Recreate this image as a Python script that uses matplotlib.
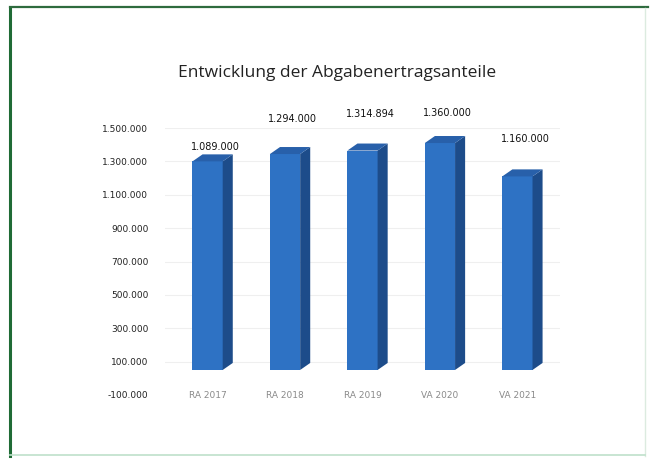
import matplotlib
matplotlib.use("Agg")
import matplotlib.pyplot as plt
from matplotlib.patches import Polygon
from matplotlib.lines import Line2D

# ---- data ----
categories = ["RA 2017", "RA 2018", "RA 2019", "VA 2020", "VA 2021"]
values = [1250000, 1294000, 1314894, 1360000, 1160000]
value_labels = ["1.089.000", "1.294.000", "1.314.894", "1.360.000", "1.160.000"]
tick_values = [-100000, 100000, 300000, 500000, 700000, 900000, 1100000, 1300000, 1500000]
tick_labels = ["-100.000", "100.000", "300.000", "500.000", "700.000", "900.000",
               "1.100.000", "1.300.000", "1.500.000"]
title = "Entwicklung der Abgabenertragsanteile"

# ---- styles ----
label_offsets = [15000, 136000, 150000, 105000, 154000]
front_col = "#2E72C4"
side_col = "#1D4C8A"
top_col = "#2860AA"
bar_w = 0.39
depth_x = 0.13
depth_y = 42000

W, H = 650, 459
fig = plt.figure(figsize=(W / 100, H / 100), dpi=100)
fig.patch.set_facecolor("white")

rect = [165 / W, (H - 395) / H, 395 / W, (395 - 128) / H]
ax = fig.add_axes(rect)
ax.set_xlim(-0.55, 4.55)
ax.set_ylim(-100000, 1500000)
ax.set_yticks(tick_values)
ax.set_yticklabels(tick_labels)
ax.tick_params(axis="y", length=0, pad=12, labelsize=6.5, labelcolor="#222222")
ax.set_xticks([])
for s in ax.spines.values():
    s.set_visible(False)
ax.set_facecolor("none")
for t in tick_values[1:]:
    ax.axhline(t, color="#efefef", lw=0.8, zorder=0)

# bars axis (front face projection of the 3D chart)
bx = fig.add_axes(rect, sharex=ax)
bx.set_ylim(-150000, 1450000)
bx.axis("off")
bx.set_facecolor("none")
xs = list(range(len(categories)))
bx.bar(xs, values, width=bar_w, color=front_col, zorder=3, linewidth=0)
for x, v in zip(xs, values):
    l, r = x - bar_w / 2, x + bar_w / 2
    side = Polygon([(r, 0), (r + depth_x, depth_y), (r + depth_x, v + depth_y), (r, v)],
                   closed=True, facecolor=side_col, edgecolor="none", zorder=3)
    top = Polygon([(l, v), (l + depth_x, v + depth_y), (r + depth_x, v + depth_y), (r, v)],
                  closed=True, facecolor=top_col, edgecolor="none", zorder=3)
    bx.add_patch(side)
    bx.add_patch(top)
for x, v, lab, off in zip(xs, values, value_labels, label_offsets):
    bx.text(x + 0.1, v + depth_y + off, lab, ha="center", va="bottom",
            fontsize=7, color="#111111")
for x, c in zip(xs, categories):
    ax.text(x, -100000, c, ha="center", va="center", fontsize=6.5, color="#8a8a8a")

fig.text(337 / W, 1 - 73 / H, title, ha="center", va="center", fontsize=12.5,
         color="#222222", family="Open Sans")

# frame
fig.add_artist(Line2D([10 / W, 10 / W], [1 - 8 / H, 1 - 456 / H], color="#1F6B35", lw=2.2))
fig.add_artist(Line2D([10 / W, 648 / W], [1 - 7 / H, 1 - 7 / H], color="#2E6B3E", lw=1.6))
fig.add_artist(Line2D([645 / W, 645 / W], [1 - 8 / H, 1 - 456 / H], color="#dcebe0", lw=1.0))
fig.add_artist(Line2D([10 / W, 645 / W], [1 - 455 / H, 1 - 455 / H], color="#bfe0cb", lw=1.2))

fig.savefig("out.png", dpi=100)
